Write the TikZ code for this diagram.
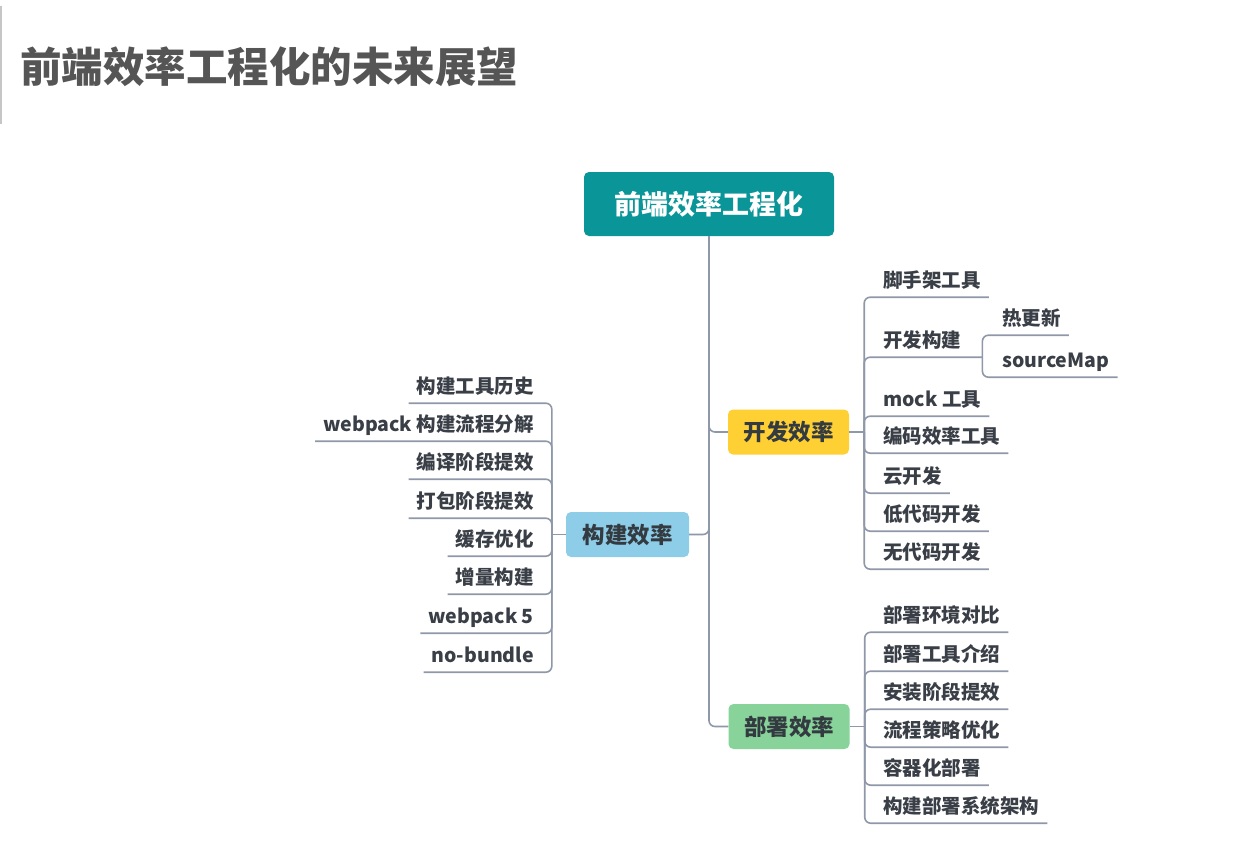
\documentclass[tikz,border=0pt]{standalone}
\usepackage{fontspec}
\setmainfont{Noto Sans CJK SC}
\definecolor{lineC}{HTML}{8F98A8}
\definecolor{leafC}{HTML}{3A3F47}
\definecolor{boxT}{HTML}{333A40}
\definecolor{titleC}{HTML}{555555}
\definecolor{rootC}{HTML}{0A9598}
\definecolor{kfC}{HTML}{FFD034}
\definecolor{gjC}{HTML}{8ECDE8}
\definecolor{bsC}{HTML}{87D39A}
\begin{document}
\begin{tikzpicture}[x=1pt,y=-1pt,
  conn/.style={draw=lineC, line width=1.6pt, rounded corners=6pt},
  leaf/.style={font=\bfseries\fontsize{19.5}{21}\selectfont, text=leafC, inner sep=0pt,
    minimum height=33pt, text height=17.2pt, text depth=2.3pt},
  leafR/.style={leaf, anchor=west},
  leafL/.style={leaf, anchor=east},
  topicbox/.style={rounded corners=5pt, inner sep=0pt, minimum height=45pt, minimum width=121pt,
    font=\bfseries\fontsize{22.5}{24}\selectfont, text=boxT, text height=19.8pt, text depth=2.7pt}
]
\useasboundingbox (0,0) rectangle (1260,848);
\fill[white] (0,0) rectangle (1260,848);
\draw[gray!45, line width=2pt] (1,6) -- (1,124);

% title
\node[anchor=west, inner sep=0pt, font=\bfseries\fontsize{41.5}{44}\selectfont, text=titleC,
  text height=36.5pt, text depth=5pt] (title) at (20,67) {前端效率工程化的未来展望};

% root and main topics
\node[topicbox, fill=rootC, text=white, minimum width=250pt, minimum height=64pt,
  font=\bfseries\fontsize{27}{29}\selectfont, text height=23.8pt, text depth=3.2pt] (root) at (709,204) {前端效率工程化};
\node[topicbox, fill=kfC] (kf) at (788.5,432) {开发效率};
\node[topicbox, fill=gjC, minimum width=123pt] (gj) at (627.5,534.5) {构建效率};
\node[topicbox, fill=bsC] (bs) at (789,726.5) {部署效率};

\draw[conn] (root.south) |- (kf.west);
\draw[conn] (root.south) |- (gj.east);
\draw[conn] (root.south) |- (bs.west);

% 开发效率 children
\node[leafR] (k1) at (883,280.5) {脚手架工具};
\node[leafR] (k2) at (883,340.5) {开发构建};
\node[leafR] (k3) at (883,399.5) {mock 工具};
\node[leafR] (k4) at (883,436.5) {编码效率工具};
\node[leafR] (k5) at (883,476.5) {云开发};
\node[leafR] (k6) at (883,514.5) {低代码开发};
\node[leafR] (k7) at (883,552.5) {无代码开发};
\node[leafR] (k2a) at (1002,318.5) {热更新};
\node[leafR] (k2b) at (1002,360.5) {sourceMap};

\coordinate (ks) at ([xshift=15pt]kf.east);
\draw[conn] (kf.east) -- (ks);
\foreach \c in {k1,k3,k4,k5,k6,k7}
  \draw[conn] (ks) |- ([xshift=8pt]\c.south east);
\coordinate (k2s) at ([xshift=21pt]k2.south east);
\draw[conn] (ks) |- (k2s);
\foreach \c in {k2a,k2b}
  \draw[conn] (k2s) |- ([xshift=8pt]\c.south east);

% 构建效率 children
\node[leafL] (g1) at (534,386.5) {构建工具历史};
\node[leafL] (g2) at (534,424.5) {webpack 构建流程分解};
\node[leafL] (g3) at (534,462.5) {编译阶段提效};
\node[leafL] (g4) at (534,501.5) {打包阶段提效};
\node[leafL] (g5) at (534,539.5) {缓存优化};
\node[leafL] (g6) at (534,577.5) {增量构建};
\node[leafL] (g7) at (534,616.5) {webpack 5};
\node[leafL] (g8) at (534,655.5) {no-bundle};

\coordinate (gs) at ([xshift=-14pt]gj.west);
\draw[conn] (gj.west) -- (gs);
\foreach \c in {g1,g2,g3,g4,g5,g6,g7,g8}
  \draw[conn] (gs) |- ([xshift=-8pt]\c.south west);

% 部署效率 children
\node[leafR] (b1) at (883,615.5) {部署环境对比};
\node[leafR] (b2) at (883,654.5) {部署工具介绍};
\node[leafR] (b3) at (883,692.5) {安装阶段提效};
\node[leafR] (b4) at (883,730.5) {流程策略优化};
\node[leafR] (b5) at (883,768.5) {容器化部署};
\node[leafR] (b6) at (883,806.5) {构建部署系统架构};

\coordinate (bsp) at ([xshift=15pt]bs.east);
\draw[conn] (bs.east) -- (bsp);
\foreach \c in {b1,b2,b3,b4,b5,b6}
  \draw[conn] (bsp) |- ([xshift=8pt]\c.south east);
\end{tikzpicture}
\end{document}
